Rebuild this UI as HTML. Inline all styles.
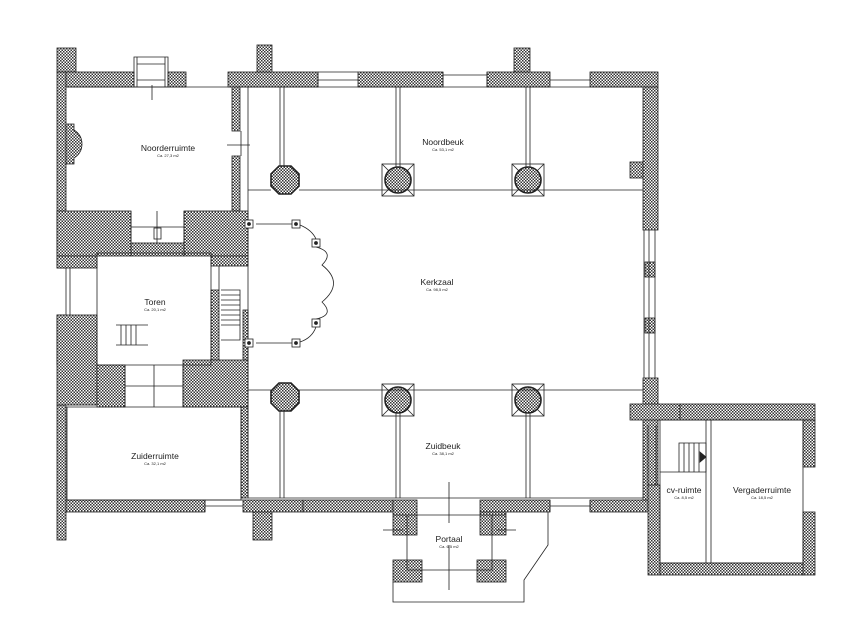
<!DOCTYPE html>
<html><head><meta charset="utf-8"><style>
html,body{margin:0;padding:0;background:#fff;}
svg{display:block;}
text{font-family:"Liberation Sans",sans-serif;fill:#222;}
</style></head><body>
<svg width="865" height="631" viewBox="0 0 865 631" xmlns="http://www.w3.org/2000/svg">
<defs>
<pattern id="h" width="3" height="3" patternUnits="userSpaceOnUse">
<rect width="3" height="3" fill="#fff"/>
<rect width="1.5" height="1.5" fill="#333"/>
<rect x="1.5" y="1.5" width="1.5" height="1.5" fill="#333"/>
</pattern>
</defs>
<g fill="url(#h)" stroke="#222" stroke-width="0.8">
<rect x="57" y="48" width="19" height="24"/>
<rect x="57" y="72" width="9" height="196"/>
<rect x="57" y="315" width="9" height="50"/>
<rect x="57" y="405" width="9" height="135"/>
<rect x="66" y="72" width="68" height="15"/>
<rect x="168" y="72" width="18" height="15"/>
<rect x="228" y="72" width="90" height="15"/>
<rect x="257" y="45" width="15" height="27"/>
<rect x="358" y="72" width="85" height="15"/>
<rect x="487" y="72" width="63" height="15"/>
<rect x="514" y="48" width="16" height="24"/>
<rect x="590" y="72" width="68" height="15"/>
<path d="M66 124H74V130Q82 135 82 144Q82 153 74 158V164H66Z"/>
<rect x="232" y="87" width="8" height="44"/>
<rect x="232" y="156" width="8" height="55"/>
<rect x="57" y="211" width="74" height="45"/>
<rect x="184" y="211" width="64" height="45"/>
<rect x="131" y="243" width="53" height="13"/>
<rect x="57" y="256" width="40" height="12"/>
<rect x="211" y="256" width="37" height="10"/>
<rect x="211" y="290" width="8" height="70"/>
<rect x="243" y="310" width="5" height="50"/>
<rect x="57" y="315" width="40" height="90"/>
<rect x="97" y="365" width="28" height="42"/>
<rect x="183" y="360" width="65" height="47"/>
<rect x="241" y="407" width="7" height="91"/>
<rect x="66" y="500" width="139" height="12"/>
<rect x="243" y="500" width="60" height="12"/>
<rect x="253" y="512" width="19" height="28"/>
<rect x="303" y="500" width="90" height="12"/>
<rect x="393" y="500" width="24" height="35"/>
<rect x="480" y="500" width="70" height="12"/>
<rect x="480" y="512" width="26" height="23"/>
<rect x="393" y="560" width="29" height="22"/>
<rect x="477" y="560" width="29" height="22"/>
<rect x="590" y="500" width="58" height="12"/>
<rect x="643" y="87" width="15" height="143"/>
<rect x="630" y="162" width="13" height="16"/>
<rect x="645" y="262" width="10" height="15"/>
<rect x="645" y="318" width="10" height="15"/>
<rect x="643" y="378" width="15" height="122"/>
<rect x="630" y="404" width="50" height="16"/>
<rect x="680" y="404" width="135" height="16"/>
<rect x="648" y="485" width="12" height="90"/>
<rect x="803" y="420" width="12" height="47"/>
<rect x="803" y="512" width="12" height="63"/>
<rect x="660" y="563" width="143" height="12"/>
</g>
<g stroke="#222" stroke-width="0.8">
<g fill="none">
<rect x="382" y="164" width="32" height="32"/>
<rect x="512" y="164" width="32" height="32"/>
<rect x="382" y="384" width="32" height="32"/>
<rect x="512" y="384" width="32" height="32"/>
<path d="M382 164l32 32M414 164l-32 32M512 164l32 32M544 164l-32 32M382 384l32 32M414 384l-32 32M512 384l32 32M544 384l-32 32"/>
</g>
<g fill="url(#h)" stroke-width="1.6">
<circle cx="398" cy="180" r="13"/><circle cx="528" cy="180" r="13"/>
<circle cx="398" cy="400" r="13"/><circle cx="528" cy="400" r="13"/>
<polygon points="279,166 291,166 299,174 299,186 291,194 279,194 271,186 271,174"/>
<polygon points="279,383 291,383 299,391 299,403 291,411 279,411 271,403 271,391"/>
</g>
<g fill="none">
<path d="M280 87V166M284 87V166M396 87V167M400 87V167M526 87V167M530 87V167"/>
<path d="M280 411V498M284 411V498M396 413V498M400 413V498M526 413V498M530 413V498"/>
<path d="M248 190H271M299 190H643M248 390H271M299 390H643"/>
<path d="M240 87H643M248 498H643M66 87H232M248 87V498M241 131V156"/>
<path d="M256 224H292M256 343H292"/>
<path d="M300 225Q312 230 316 239M316 247Q335 252 322 265Q345 283 322 302Q335 315 316 319M316 327Q312 338 300 342"/>
<path d="M131 211V243M184 211V243M131 227H184M157 211V243M125 365V407M183 365V407M125 386H183M154 365V407"/>
<path d="M97 253H211V365H97Z"/>
<path d="M67 407H241V500H67Z"/>
<path d="M66 268V315M70 268V315M219 266V290"/>
<path d="M134 57H168V87H134Z M137 57V87M165 57V87M137 64H165M137 80H165M318 72V87M358 72H318M318 80H358M443 72V87M487 72V87M443 75H487M550 80H590M205 500V512M243 500H205M205 506H243M550 500V512M590 500V512M550 506H590"/>
<path d="M644 230V378M655 230V378M649 230V378"/>
<path d="M407 515H492V570H407Z M407 515H393M492 515H506"/>
<path d="M548 512V545L524 580V602H393V582"/>
<path d="M449 482V523M449 545V590M383 530H403M496 530H516M152 85V100M227 145H250"/>
<path d="M660 420H803V563H660Z M706 420V563M711 420V563M648 425V485M656 425V485"/>
<path d="M679 443H706V472H679Z M684 443V472M689 443V472M694 443V472M699 443V472M660 472H679"/>
<path d="M116 325H148M116 345H148M121 325V345M126 325V345M131 325V345M136 325V345M221 290H240V340H221M221 295H240M221 300H240M221 305H240M221 310H240M221 315H240M221 320H240M221 325H240"/>
<rect x="154" y="228" width="7" height="11"/>
</g>
<g fill="#fff">
<rect x="245" y="220" width="8" height="8"/><rect x="292" y="220" width="8" height="8"/>
<rect x="312" y="239" width="8" height="8"/><rect x="312" y="319" width="8" height="8"/>
<rect x="292" y="339" width="8" height="8"/><rect x="245" y="339" width="8" height="8"/>
</g>
<g fill="#222"><circle cx="249" cy="224" r="1.5"/><circle cx="296" cy="224" r="1.5"/><circle cx="316" cy="243" r="1.5"/><circle cx="316" cy="323" r="1.5"/><circle cx="296" cy="343" r="1.5"/><circle cx="249" cy="343" r="1.5"/>
<path d="M700 452L706 457L700 462Z"/></g>
</g>
<g font-size="8.5" text-anchor="middle">
<text x="168" y="151">Noorderruimte</text>
<text x="443" y="145">Noordbeuk</text>
<text x="437" y="285">Kerkzaal</text>
<text x="155" y="305">Toren</text>
<text x="155" y="459">Zuiderruimte</text>
<text x="443" y="449">Zuidbeuk</text>
<text x="449" y="542">Portaal</text>
<text x="684" y="493">cv-ruimte</text>
<text x="762" y="493">Vergaderruimte</text>
</g>
<g font-size="4" text-anchor="middle">
<text x="168" y="157">Ca. 27,3 m2</text>
<text x="443" y="151">Ca. 53,1 m2</text>
<text x="437" y="291">Ca. 98,5 m2</text>
<text x="155" y="311">Ca. 20,1 m2</text>
<text x="155" y="465">Ca. 32,1 m2</text>
<text x="443" y="455">Ca. 38,1 m2</text>
<text x="449" y="548">Ca. 6,5 m2</text>
<text x="684" y="499">Ca. 8,5 m2</text>
<text x="762" y="499">Ca. 18,5 m2</text>
</g>
</svg>
</body></html>
